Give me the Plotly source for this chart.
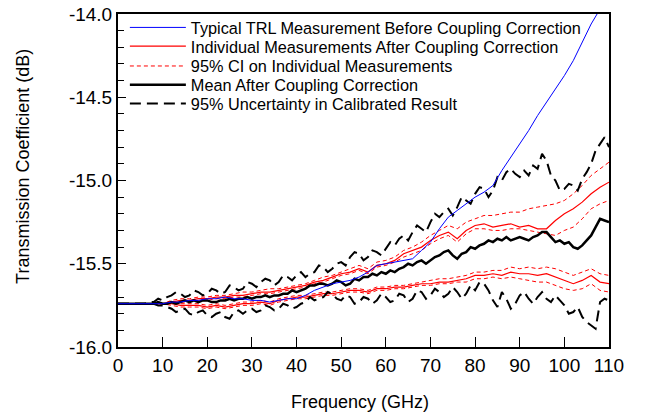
import plotly.graph_objects as go

freq = [0, 2, 4, 6, 8, 10, 12, 14, 16, 18, 20, 22, 24, 26, 28, 30, 32, 34, 36, 38, 40,
        42, 44, 46, 48, 50, 52, 54, 56, 58, 60, 62, 64, 66, 68, 70, 72, 74, 76, 78, 80,
        82, 84, 86, 88, 90, 92, 94, 96, 98, 100, 102, 104, 106, 108, 110]

freq_fine = list(range(0, 111))

trl_before = [-15.74, -15.74, -15.74, -15.74, -15.74, -15.74,
              -15.73, -15.73, -15.72, -15.72, -15.71,
              -15.71, -15.70, -15.71, -15.71, -15.72,
              -15.72, -15.73, -15.72, -15.71, -15.71,
              -15.69, -15.66, -15.64, -15.62, -15.61,
              -15.60, -15.58, -15.55, -15.51, -15.50,
              -15.49, -15.48, -15.47, -15.42, -15.37,
              -15.29, -15.22, -15.18, -15.14, -15.10,
              -15.07, -15.03, -14.94, -14.86, -14.78,
              -14.70, -14.61, -14.53, -14.45, -14.37,
              -14.28, -14.17, -14.06, -13.97, -13.88]

meas1 = [-15.74, -15.74, -15.74, -15.74, -15.74, -15.74,
         -15.73, -15.72, -15.72, -15.71, -15.71,
         -15.70, -15.70, -15.69, -15.69, -15.68,
         -15.67, -15.67, -15.66, -15.65, -15.64,
         -15.63, -15.61, -15.60, -15.58, -15.56,
         -15.55, -15.53, -15.55, -15.51, -15.50,
         -15.48, -15.44, -15.42, -15.40, -15.36,
         -15.33, -15.31, -15.35, -15.30, -15.27,
         -15.26, -15.28, -15.27, -15.26, -15.28,
         -15.27, -15.29, -15.29, -15.24, -15.20,
         -15.17, -15.13, -15.08, -15.04, -15.01]

meas1_ci_hi = [-15.74, -15.74, -15.74, -15.74, -15.74, -15.74,
               -15.72, -15.71, -15.71, -15.70, -15.70,
               -15.69, -15.69, -15.68, -15.67, -15.67,
               -15.66, -15.65, -15.65, -15.64, -15.63,
               -15.62, -15.60, -15.58, -15.57, -15.55,
               -15.53, -15.51, -15.53, -15.49, -15.48,
               -15.46, -15.42, -15.40, -15.37, -15.33,
               -15.30, -15.27, -15.29, -15.25, -15.23,
               -15.21, -15.21, -15.20, -15.19, -15.19,
               -15.17, -15.16, -15.15, -15.14, -15.12,
               -15.08, -15.03, -14.97, -14.93, -14.89]

meas1_ci_lo = [-15.74, -15.74, -15.74, -15.74, -15.74, -15.74,
               -15.74, -15.73, -15.73, -15.72, -15.72,
               -15.71, -15.71, -15.70, -15.70, -15.69,
               -15.68, -15.68, -15.67, -15.66, -15.65,
               -15.64, -15.62, -15.61, -15.59, -15.57,
               -15.56, -15.54, -15.56, -15.52, -15.51,
               -15.49, -15.46, -15.44, -15.42, -15.38,
               -15.35, -15.33, -15.37, -15.32, -15.29,
               -15.29, -15.30, -15.30, -15.29, -15.29,
               -15.30, -15.31, -15.32, -15.33, -15.30,
               -15.28, -15.23, -15.17, -15.14, -15.12]

meas2 = [-15.74, -15.74, -15.74, -15.74, -15.74, -15.74,
         -15.74, -15.75, -15.75, -15.75, -15.76,
         -15.75, -15.76, -15.75, -15.74, -15.74,
         -15.73, -15.74, -15.72, -15.71, -15.70,
         -15.70, -15.69, -15.68, -15.68, -15.67,
         -15.66, -15.66, -15.67, -15.65, -15.65,
         -15.64, -15.64, -15.63, -15.62, -15.62,
         -15.61, -15.61, -15.60, -15.59, -15.57,
         -15.57, -15.56, -15.57, -15.55, -15.56,
         -15.56, -15.57, -15.56, -15.58, -15.60,
         -15.62, -15.60, -15.57, -15.61, -15.62]

meas2_ci_hi = [-15.74, -15.74, -15.74, -15.74, -15.74, -15.74,
               -15.73, -15.74, -15.74, -15.74, -15.75,
               -15.74, -15.75, -15.74, -15.73, -15.73,
               -15.72, -15.73, -15.71, -15.70, -15.69,
               -15.69, -15.68, -15.67, -15.67, -15.66,
               -15.65, -15.65, -15.66, -15.64, -15.64,
               -15.63, -15.63, -15.62, -15.61, -15.60,
               -15.59, -15.59, -15.58, -15.57, -15.55,
               -15.55, -15.54, -15.54, -15.52, -15.53,
               -15.52, -15.53, -15.52, -15.53, -15.55,
               -15.57, -15.55, -15.53, -15.56, -15.57]

meas2_ci_lo = [-15.74, -15.74, -15.74, -15.74, -15.74, -15.74,
               -15.75, -15.76, -15.76, -15.76, -15.77,
               -15.76, -15.77, -15.76, -15.75, -15.75,
               -15.74, -15.75, -15.73, -15.72, -15.71,
               -15.71, -15.70, -15.69, -15.69, -15.68,
               -15.67, -15.67, -15.68, -15.66, -15.66,
               -15.65, -15.65, -15.64, -15.63, -15.63,
               -15.62, -15.62, -15.61, -15.61, -15.59,
               -15.59, -15.58, -15.59, -15.58, -15.59,
               -15.60, -15.61, -15.61, -15.63, -15.65,
               -15.66, -15.65, -15.62, -15.66, -15.67]

mean_corr = [-15.74, -15.74, -15.74, -15.74, -15.74, -15.74, -15.74, -15.74, -15.74, -15.73, -15.74,
             -15.74, -15.73, -15.74, -15.73, -15.72, -15.73, -15.72, -15.73, -15.72, -15.72,
             -15.73, -15.73, -15.72, -15.72, -15.71, -15.72, -15.71, -15.71, -15.70, -15.71,
             -15.70, -15.70, -15.69, -15.70, -15.69, -15.69, -15.68, -15.68, -15.66, -15.67,
             -15.66, -15.65, -15.63, -15.63, -15.62, -15.62, -15.63, -15.62, -15.60, -15.61,
             -15.63, -15.62, -15.59, -15.60, -15.58, -15.58, -15.56, -15.57, -15.55, -15.56,
             -15.54, -15.55, -15.53, -15.52, -15.50, -15.51, -15.49, -15.48, -15.50, -15.48,
             -15.46, -15.45, -15.43, -15.42, -15.45, -15.47, -15.44, -15.43, -15.40, -15.41,
             -15.39, -15.38, -15.36, -15.37, -15.35, -15.36, -15.34, -15.36, -15.35, -15.34,
             -15.35, -15.36, -15.34, -15.33, -15.31, -15.31, -15.34, -15.37, -15.36, -15.38,
             -15.37, -15.40, -15.41, -15.39, -15.36, -15.33, -15.28, -15.23, -15.24, -15.25]

unc_hi = [-15.74, -15.74, -15.74, -15.74, -15.74, -15.74, -15.74, -15.73, -15.73, -15.71, -15.72,
          -15.70, -15.69, -15.67, -15.68, -15.70, -15.69, -15.66, -15.67, -15.69, -15.68,
          -15.65, -15.66, -15.68, -15.67, -15.63, -15.64, -15.66, -15.65, -15.61, -15.62,
          -15.64, -15.61, -15.59, -15.60, -15.63, -15.61, -15.57, -15.58, -15.60, -15.57,
          -15.55, -15.58, -15.56, -15.55, -15.51, -15.52, -15.55, -15.53, -15.50, -15.49,
          -15.51, -15.46, -15.43, -15.44, -15.48, -15.46, -15.42, -15.43, -15.45, -15.41,
          -15.37, -15.39, -15.35, -15.33, -15.36, -15.31, -15.27, -15.29, -15.31, -15.25,
          -15.20, -15.22, -15.19, -15.17, -15.21, -15.16, -15.10, -15.12, -15.14, -15.08,
          -15.04, -15.05, -15.10, -15.06, -14.98, -15.00, -14.95, -14.93, -14.96, -14.98,
          -14.94, -14.97, -14.91, -14.93, -14.84, -14.88, -14.97, -15.00, -15.06, -15.05,
          -15.02, -15.03, -15.06, -14.99, -14.95, -14.90, -14.82, -14.78, -14.74, -14.80]

unc_lo = [-15.74, -15.74, -15.74, -15.74, -15.74, -15.74, -15.74, -15.74, -15.74, -15.75, -15.75,
          -15.76, -15.77, -15.79, -15.78, -15.77, -15.80, -15.81, -15.79, -15.78, -15.81,
          -15.82, -15.80, -15.79, -15.82, -15.83, -15.79, -15.78, -15.80, -15.78, -15.77,
          -15.79, -15.78, -15.75, -15.76, -15.78, -15.77, -15.74, -15.75, -15.77, -15.76,
          -15.74, -15.73, -15.70, -15.72, -15.71, -15.70, -15.67, -15.68, -15.71, -15.72,
          -15.69, -15.70, -15.74, -15.73, -15.70, -15.71, -15.74, -15.72, -15.68, -15.70,
          -15.73, -15.72, -15.68, -15.69, -15.73, -15.71, -15.66, -15.67, -15.71, -15.69,
          -15.65, -15.67, -15.70, -15.68, -15.64, -15.67, -15.71, -15.68, -15.63, -15.66,
          -15.61, -15.62, -15.66, -15.72, -15.76, -15.67, -15.71, -15.77, -15.74, -15.69,
          -15.67, -15.71, -15.74, -15.70, -15.67, -15.71, -15.73, -15.69, -15.72, -15.75,
          -15.80, -15.79, -15.76, -15.82, -15.85, -15.87, -15.89, -15.73, -15.71, -15.72]

x_ticks = [0, 10, 20, 30, 40, 50, 60, 70, 80, 90, 100, 110]
y_ticks = [-16.0, -15.5, -15.0, -14.5, -14.0]
y_tick_labels = ["-16.0", "-15.5", "-15.0", "-14.5", "-14.0"]

names = ["Typical TRL Measurement Before Coupling Correction",
         "Individual Measurements After Coupling Correction",
         "95% CI on Individual Measurements",
         "Mean After Coupling Correction",
         "95% Uncertainty in Calibrated Result"]

FONT = "Liberation Sans, Arial, sans-serif"
BLUE = "#0000ff"
RED = "#ff0000"
BLACK = "#000000"

fig = go.Figure()

def add(x, y, name, color, width, dash, leg, show):
    fig.add_trace(go.Scatter(x=x, y=y, mode="lines", name=name,
                             line=dict(color=color, width=width, dash=dash),
                             legend=leg, showlegend=show, hoverinfo="skip"))

RDASH = "4px,3px"
BDASH = "11px,6px"
add(freq, meas1_ci_hi, names[2], RED, 1, RDASH, "legend3", True)
add(freq, meas1_ci_lo, names[2], RED, 1, RDASH, "legend3", False)
add(freq, meas2_ci_hi, names[2], RED, 1, RDASH, "legend3", False)
add(freq, meas2_ci_lo, names[2], RED, 1, RDASH, "legend3", False)
add(freq, meas1, names[1], RED, 1.2, "solid", "legend2", True)
add(freq, meas2, names[1], RED, 1.2, "solid", "legend2", False)
add(freq_fine, unc_hi, names[4], BLACK, 2, BDASH, "legend5", True)
add(freq_fine, unc_lo, names[4], BLACK, 2, BDASH, "legend5", False)
add(freq_fine, mean_corr, names[3], BLACK, 2.5, "solid", "legend4", True)
add(freq, trl_before, names[0], BLUE, 1, "solid", "legend", True)

# legend rows (pixel centres 22, 41, 61, 80, 99 within a 10..347 plot area)
row_y = [0.9585, 0.9021, 0.8427, 0.7864, 0.7300]
leg_common = dict(x=0.014, xanchor="left", yanchor="middle",
                  bgcolor="rgba(0,0,0,0)", borderwidth=0,
                  font=dict(family=FONT, size=16.3, color="black"),
                  itemwidth=56)

fig.update_layout(
    width=649, height=420,
    margin=dict(l=118, r=40, t=10, b=73),
    paper_bgcolor="white", plot_bgcolor="white",
    font=dict(family=FONT, size=18, color="black"),
    showlegend=True,
    legend=dict(y=row_y[0], **leg_common),
    legend2=dict(y=row_y[1], **leg_common),
    legend3=dict(y=row_y[2], **leg_common),
    legend4=dict(y=row_y[3], **leg_common),
    legend5=dict(y=row_y[4], **leg_common),
    xaxis=dict(range=[0, 110], tickvals=x_ticks, ticks="inside", ticklen=10,
               tickwidth=1, tickcolor="black", showline=True, linecolor="black",
               linewidth=2, mirror=True, showgrid=False, zeroline=False,
               automargin=False, tickfont=dict(family=FONT, size=19)),
    yaxis=dict(range=[-16, -14], tickvals=y_ticks, ticktext=y_tick_labels,
               ticks="inside", ticklen=8, tickwidth=1, tickcolor="black",
               showline=True, linecolor="black", linewidth=2, mirror=True,
               showgrid=False, zeroline=False, automargin=False,
               minor=dict(dtick=0.1, ticks="inside", ticklen=6, tickcolor="black",
                          tickwidth=1, showgrid=False),
               tickfont=dict(family=FONT, size=19)),
    annotations=[
        dict(text="Transmission Coefficient (dB)", xref="paper", yref="paper",
             x=-0.194, y=0.543, xanchor="center", yanchor="middle",
             textangle=-90, showarrow=False, font=dict(family=FONT, size=18)),
        dict(text="Frequency (GHz)", xref="paper", yref="paper",
             x=0.493, y=-0.166, xanchor="center", yanchor="middle",
             showarrow=False, font=dict(family=FONT, size=18)),
    ],
)

fig.write_html("out.html", config={"displayModeBar": False},
               post_script="document.body.style.margin='0px';")
